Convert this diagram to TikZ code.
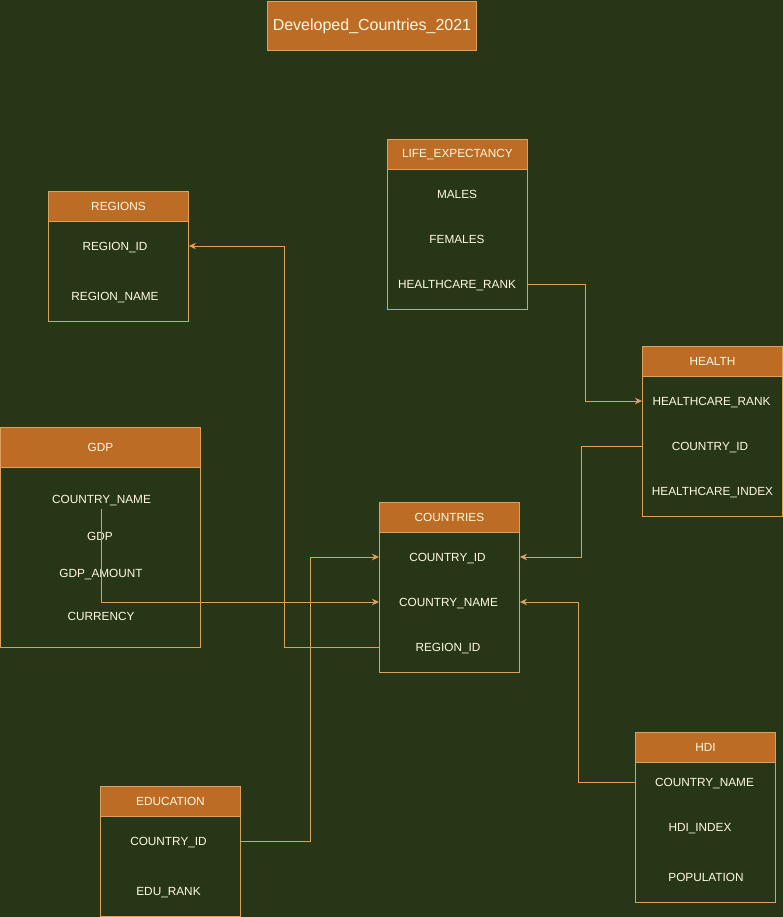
\documentclass[tikz,border=0pt]{standalone}
\usepackage{fontspec}
\setmainfont{Liberation Sans}
\usetikzlibrary{arrows.meta}
\definecolor{bgc}{HTML}{283618}
\definecolor{hdc}{HTML}{BC6C25}
\definecolor{stc}{HTML}{DDA15E}
\definecolor{txc}{HTML}{FEFAE0}
\tikzset{
  hdr/.style={draw=stc, fill=hdc, line width=0.9pt, anchor=north west, inner sep=0pt,
    text=txc, font=\fontsize{11.8}{13}\selectfont},
  tbody/.style={draw=stc, fill=bgc, line width=0.9pt, anchor=north west, inner sep=0pt},
  rowt/.style={text=txc, inner sep=0pt, text height=8.5pt, text depth=0pt,
    font=\fontsize{11.8}{13}\selectfont},
  conn/.style={draw=stc, line width=0.9pt},
  tip/.style={-{Stealth[length=7pt,width=6.5pt,inset=2.2pt]}}
}
\begin{document}
\begin{tikzpicture}[x=1pt,y=-1pt]
\fill[bgc] (0,0) rectangle (783,917);
\useasboundingbox (0,0) rectangle (783,917);

% title
\node[hdr, minimum width=209pt, minimum height=49pt, font=\fontsize{16}{18}\selectfont] (title) at (267,1) {Developed\_Countries\_2021};

% REGIONS
\node[hdr, minimum width=140pt, minimum height=30pt] (regh) at (48,191) {REGIONS};
\node[tbody, minimum width=140pt, minimum height=100pt] (regb) at (48,221) {};
\node[rowt] (r_id) at (115,246) {REGION\_ID};
\node[rowt] (r_name) at (115,296) {REGION\_NAME};

% LIFE_EXPECTANCY
\node[hdr, minimum width=140pt, minimum height=30pt] (lifh) at (387,139) {LIFE\_EXPECTANCY};
\node[tbody, minimum width=140pt, minimum height=140pt] (lifb) at (387,169) {};
\node[rowt] (l_m) at (457,194) {MALES};
\node[rowt] (l_f) at (457,239) {FEMALES};
\node[rowt] (l_hr) at (457,284) {HEALTHCARE\_RANK};

% HEALTH
\node[hdr, minimum width=140pt, minimum height=30pt] (heah) at (642,346) {HEALTH};
\node[tbody, minimum width=140pt, minimum height=140pt] (heab) at (642,376) {};
\node[rowt] (h_hr) at (711.5,401) {HEALTHCARE\_RANK};
\node[rowt] (h_cid) at (710,446) {COUNTRY\_ID};
\node[rowt] (h_hi) at (712.5,491) {HEALTHCARE\_INDEX};

% GDP
\node[hdr, minimum width=200pt, minimum height=40pt] (gdph) at (0,427) {GDP};
\node[tbody, minimum width=200pt, minimum height=180pt] (gdpb) at (0,467) {};
\node[rowt] (g_cn) at (101.5,499) {COUNTRY\_NAME};
\node[rowt] (g_gdp) at (100,536) {GDP};
\node[rowt] (g_amt) at (101,573) {GDP\_AMOUNT};
\node[rowt] (g_cur) at (101,616) {CURRENCY};
\coordinate (gstart) at (101,509);

% COUNTRIES
\node[hdr, minimum width=140pt, minimum height=30pt] (couh) at (379,502) {COUNTRIES};
\node[tbody, minimum width=140pt, minimum height=140pt] (coub) at (379,532) {};
\node[rowt] (c_id) at (447.5,557) {COUNTRY\_ID};
\node[rowt] (c_name) at (448.5,602) {COUNTRY\_NAME};
\node[rowt] (c_reg) at (448,647) {REGION\_ID};

% EDUCATION
\node[hdr, minimum width=140pt, minimum height=30pt] (eduh) at (100,786) {EDUCATION};
\node[tbody, minimum width=140pt, minimum height=100pt] (edub) at (100,816) {};
\node[rowt] (e_cid) at (168.5,841) {COUNTRY\_ID};
\node[rowt] (e_rank) at (168.5,891) {EDU\_RANK};

% HDI
\node[hdr, minimum width=140pt, minimum height=30pt] (hdih) at (635,732) {HDI};
\node[tbody, minimum width=140pt, minimum height=140pt] (hdib) at (635,762) {};
\node[rowt] (d_cn) at (704.5,782) {COUNTRY\_NAME};
\node[rowt] (d_idx) at (700,827) {HDI\_INDEX};
\node[rowt] (d_pop) at (706,877) {POPULATION};

% connectors
\draw[conn, tip] (coub.west |- c_reg) -- ++(-95,0) |- (regb.east |- r_id);
\draw[conn, tip] (gstart) |- (coub.west |- c_name);
\draw[conn, tip] (edub.east |- e_cid) -- ++(70,0) |- (coub.west |- c_id);
\draw[conn, tip] (heab.west |- h_cid) -- ++(-61,0) |- (coub.east |- c_id);
\draw[conn, tip] (hdib.west |- d_cn) -- ++(-57,0) |- (coub.east |- c_name);
\draw[conn, tip] (lifb.east |- l_hr) -- ++(58,0) |- (heab.west |- h_hr);
\end{tikzpicture}
\end{document}
